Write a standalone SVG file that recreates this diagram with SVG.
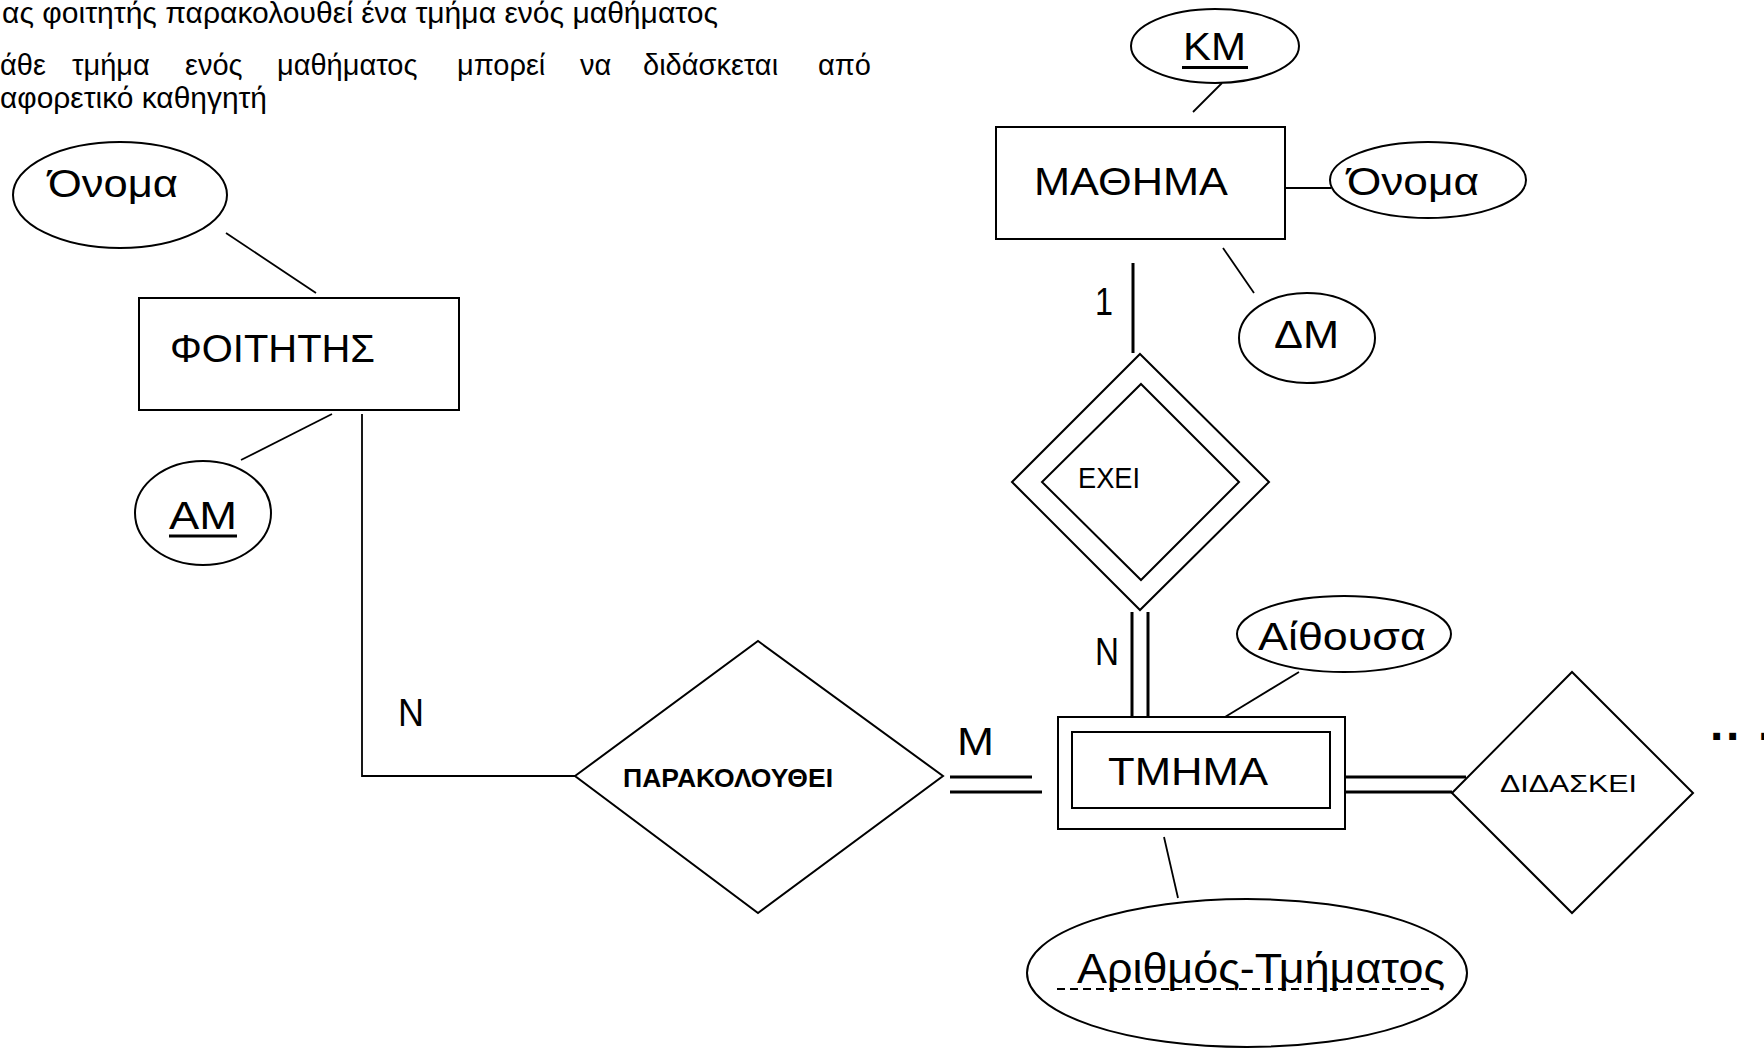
<svg xmlns="http://www.w3.org/2000/svg" width="1764" height="1048" viewBox="0 0 1764 1048">
<style>
 .ln{stroke:#000;stroke-width:1.8;fill:none}
 .thk{stroke:#000;stroke-width:3;fill:none}
 .shape{fill:#fff;stroke:#000;stroke-width:2}
 .t{font-family:"Liberation Sans",Arial,sans-serif;fill:#000}
 .big{font-size:39px}
 .note{font-size:29px}
</style>
<rect x="0" y="0" width="1764" height="1048" fill="#fff"/>
<g id="notes" class="t note">
 <text x="2" y="23" textLength="716" lengthAdjust="spacingAndGlyphs">ας φοιτητής παρακολουθεί ένα τμήμα ενός μαθήματος</text>
 <text y="75"><tspan x="0">άθε</tspan><tspan x="72">τμήμα</tspan><tspan x="185">ενός</tspan><tspan x="277">μαθήματος</tspan><tspan x="457">μπορεί</tspan><tspan x="580">να</tspan><tspan x="643">διδάσκεται</tspan><tspan x="818">από</tspan></text>
 <text x="0" y="108" textLength="267" lengthAdjust="spacingAndGlyphs">αφορετικό καθηγητή</text>
</g>
<g id="connectors">
 <line class="ln" x1="226" y1="233" x2="316" y2="293"/>
 <line class="ln" x1="332" y1="414" x2="241" y2="460"/>
 <polyline class="ln" points="362,414 362,776 575,776"/>
 <line class="thk" x1="950" y1="777" x2="1032" y2="777"/>
 <line class="thk" x1="950" y1="792" x2="1042" y2="792"/>
 <line class="thk" x1="1133" y1="263" x2="1133" y2="353"/>
 <line class="thk" x1="1132" y1="612" x2="1132" y2="717"/>
 <line class="thk" x1="1148" y1="612" x2="1148" y2="717"/>
 <line class="ln" x1="1299" y1="672" x2="1225" y2="717"/>
 <line class="ln" x1="1164" y1="837" x2="1178" y2="898"/>
 <line class="thk" x1="1345" y1="777" x2="1466" y2="777"/>
 <line class="thk" x1="1345" y1="792" x2="1452" y2="792"/>
 <line class="ln" x1="1222" y1="83" x2="1193" y2="112"/>
 <line class="ln" x1="1285" y1="188" x2="1331" y2="188"/>
 <line class="ln" x1="1223" y1="248" x2="1254" y2="293"/>
</g>
<g id="labels" class="t big">
 <text x="398" y="726" textLength="26" lengthAdjust="spacingAndGlyphs">N</text>
 <text x="957" y="755" textLength="37" lengthAdjust="spacingAndGlyphs">M</text>
 <text x="1095" y="315" textLength="18" lengthAdjust="spacingAndGlyphs">1</text>
 <text x="1095" y="665" textLength="24" lengthAdjust="spacingAndGlyphs">N</text>
</g>
<g id="foititis">
 <rect class="shape" x="139" y="298" width="320" height="112"/>
 <text class="t big" x="170" y="362" textLength="205" lengthAdjust="spacingAndGlyphs">ΦΟΙΤΗΤΗΣ</text>
</g>
<g id="foititis-onoma">
 <ellipse class="shape" cx="120" cy="195" rx="107" ry="53"/>
 <text class="t big" x="48" y="197" textLength="130" lengthAdjust="spacingAndGlyphs">Όνομα</text>
</g>
<g id="foititis-am">
 <ellipse class="shape" cx="203" cy="513" rx="68" ry="52"/>
 <text class="t big" x="169" y="529" textLength="68" lengthAdjust="spacingAndGlyphs">ΑΜ</text>
 <rect x="169" y="534.5" width="68" height="3" fill="#000"/>
</g>
<g id="parakolouthei">
 <polygon class="shape" points="575,776 758,641 943,776 758,913"/>
 <text class="t" x="623" y="787" font-size="26" font-weight="bold" textLength="210" lengthAdjust="spacingAndGlyphs">ΠΑΡΑΚΟΛΟΥΘΕΙ</text>
</g>
<g id="mathima">
 <rect class="shape" x="996" y="127" width="289" height="112"/>
 <text class="t big" x="1034" y="195" textLength="194" lengthAdjust="spacingAndGlyphs">ΜΑΘΗΜΑ</text>
</g>
<g id="mathima-km">
 <ellipse class="shape" cx="1215" cy="46" rx="84" ry="37"/>
 <text class="t big" x="1183" y="60" textLength="63" lengthAdjust="spacingAndGlyphs">ΚΜ</text>
 <rect x="1182" y="66" width="66" height="3" fill="#000"/>
</g>
<g id="mathima-onoma">
 <ellipse class="shape" cx="1428" cy="180" rx="98" ry="38"/>
 <text class="t big" x="1347" y="195" textLength="132" lengthAdjust="spacingAndGlyphs">Όνομα</text>
</g>
<g id="mathima-dm">
 <ellipse class="shape" cx="1307" cy="338" rx="68" ry="45"/>
 <text class="t big" x="1274" y="348" textLength="65" lengthAdjust="spacingAndGlyphs">ΔΜ</text>
</g>
<g id="exei">
 <polygon class="shape" points="1140,354 1269,482 1140,610 1012,482"/>
 <polygon class="shape" points="1141,384 1239,482 1141,580 1042,482"/>
 <text class="t" x="1078" y="488" font-size="29" textLength="62" lengthAdjust="spacingAndGlyphs">ΕΧΕΙ</text>
</g>
<g id="tmima">
 <rect class="shape" x="1058" y="717" width="287" height="112"/>
 <rect class="shape" x="1072" y="732" width="258" height="76"/>
 <text class="t big" x="1108" y="785" textLength="160" lengthAdjust="spacingAndGlyphs">ΤΜΗΜΑ</text>
</g>
<g id="tmima-aithousa">
 <ellipse class="shape" cx="1344" cy="634" rx="107" ry="38"/>
 <text class="t big" x="1258" y="650" textLength="168" lengthAdjust="spacingAndGlyphs">Αίθουσα</text>
</g>
<g id="tmima-arithmos">
 <ellipse class="shape" cx="1247" cy="973" rx="220" ry="74"/>
 <text class="t" x="1077" y="983" font-size="42" textLength="368" lengthAdjust="spacingAndGlyphs">Αριθμός-Τμήματος</text>
 <line x1="1057" y1="989" x2="1430" y2="989" stroke="#000" stroke-width="2" stroke-dasharray="8 5"/>
</g>
<g id="didaskei">
 <polygon class="shape" points="1452,793 1572,672 1693,793 1572,913"/>
 <text class="t" x="1500" y="792" font-size="24" textLength="137" lengthAdjust="spacingAndGlyphs">ΔΙΔΑΣΚΕΙ</text>
</g>
<g id="more">
 <text class="t" x="1710" y="740" font-size="48" font-weight="bold" letter-spacing="2.7">.. .</text>
</g>
</svg>
